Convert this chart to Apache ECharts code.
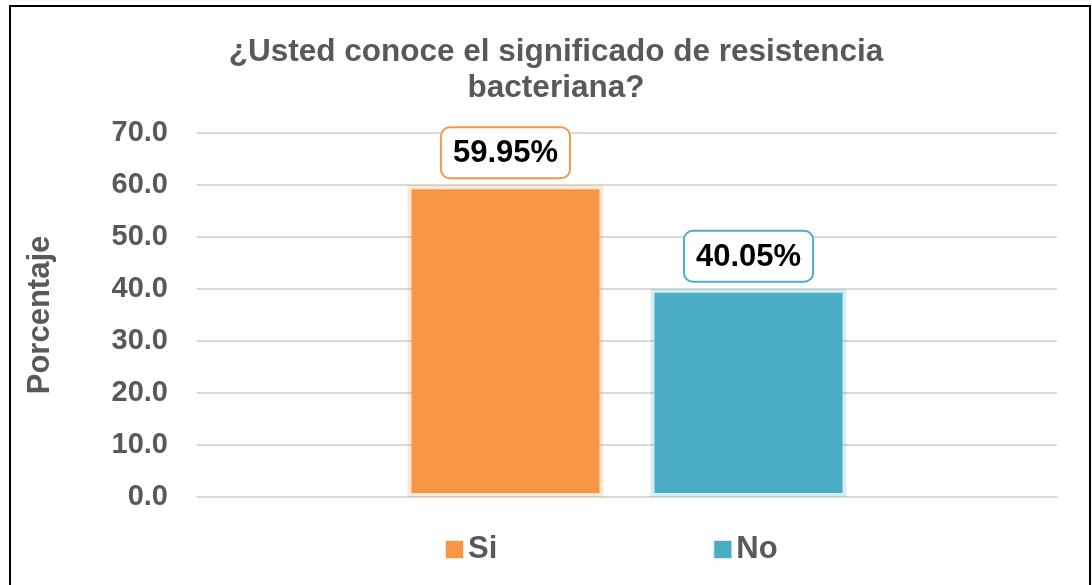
<!DOCTYPE html>
<html>
<head>
<meta charset="utf-8">
<script src="https://cdn.jsdelivr.net/npm/echarts@6/dist/echarts.min.js"></script>
<style>
	html, body { margin: 0; padding: 0; background: #fff; }
	#frame { position: absolute; left: 9px; top: 5px; width: 1078px; height: 600px; border: 2px solid #000; border-bottom: none; }
	#chart { position: absolute; left: 0; top: 0; width: 1092px; height: 585px; }
</style>
</head>
<body>
<div id="frame"></div>
<div id="chart"></div>
<script>
	/* values */
	var seriesNames = ["Si", "No"];
	var seriesValues = [59.95, 40.05];
	var seriesColors = ["#F79646", "#4BACC6"];
	var glowColors = ["rgba(247,150,70,0.22)", "rgba(75,172,198,0.22)"];
	var categories = [""];

	var chart = echarts.init(document.getElementById("chart"));

	var series = [];
	for (var i = 0; i < seriesNames.length; i++) {
		series.push({
			name : seriesNames[i],
			type : "bar",
			data : [ seriesValues[i] ],
			barWidth : 196,
			barGap : "24%",
			itemStyle : {
				color : seriesColors[i],
				borderColor : glowColors[i],
				borderWidth : 8
			},
			label : {
				show : true,
				position : "top",
				distance : 8,
				formatter : function(p) { return p.value.toFixed(2) + "%"; },
				color : "#000",
				fontFamily : "Liberation Sans",
				fontWeight : "bold",
				fontSize : 31,
				backgroundColor : "#fff",
				borderColor : seriesColors[i],
				borderWidth : 2,
				borderRadius : 8,
				padding : [ 10, 11, 8, 11 ]
			}
		});
	}

	chart.setOption({
		animation : false,
		title : {
			text : "¿Usted conoce el significado de resistencia\nbacteriana?",
			left : 551,
			textAlign : "center",
			top : 29,
			textStyle : {
				color : "#595959",
				fontFamily : "Liberation Sans",
				fontWeight : "bold",
				fontSize : 31.5,
				lineHeight : 36
			}
		},
		legend : {
			left : 445,
			top : 534,
			padding : 0,
			itemWidth : 17,
			itemHeight : 17,
			itemGap : 216,
			icon : "rect",
			data : seriesNames,
			textStyle : {
				color : "#595959",
				fontFamily : "Liberation Sans",
				fontWeight : "bold",
				fontSize : 31,
				padding : [ 3, 0, 0, 0 ]
			}
		},
		grid : {
			left : 197,
			right : 35,
			top : 133,
			bottom : 88
		},
		xAxis : {
			type : "category",
			data : categories,
			axisLine : { lineStyle : { color : "#d9d9d9", width : 2 } },
			axisTick : { show : false },
			axisLabel : { show : false }
		},
		yAxis : {
			type : "value",
			min : 0,
			max : 70,
			interval : 10,
			name : "Porcentaje",
			nameLocation : "middle",
			nameGap : 141,
			nameRotate : 90,
			nameTextStyle : {
				color : "#595959",
				fontFamily : "Liberation Sans",
				fontWeight : "bold",
				fontSize : 31
			},
			axisLine : { show : false },
			axisTick : { show : false },
			axisLabel : {
				formatter : function(v) { return v.toFixed(1); },
				color : "#595959",
				fontFamily : "Liberation Sans",
				fontWeight : "bold",
				fontSize : 29,
				margin : 29
			},
			splitLine : { lineStyle : { color : "#d9d9d9", width : 2 } }
		},
		series : series
	});
</script>
</body>
</html>
